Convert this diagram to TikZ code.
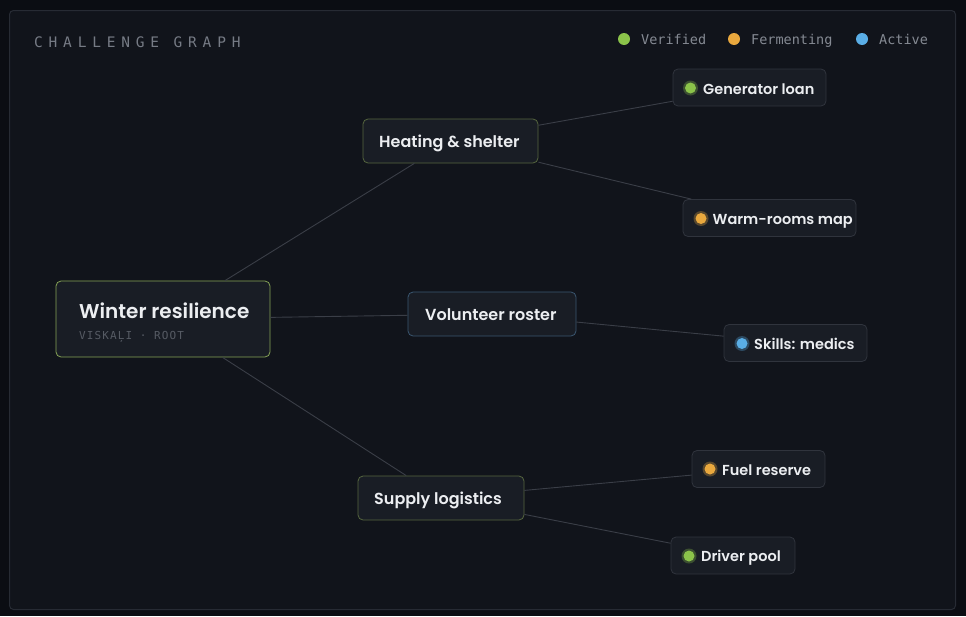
\documentclass[tikz,border=0pt]{standalone}
\usepackage{fontspec}
\setmainfont{Poppins}[UprightFont={* Medium}, BoldFont={* SemiBold}]
\newfontfamily\monofont{DejaVu Sans Mono}
\newfontfamily\trackfont{DejaVu Sans Mono}[LetterSpace=40]
\newfontfamily\subfont{DejaVu Sans Mono}[LetterSpace=10]
\definecolor{bgout}{HTML}{0B0D13}
\definecolor{panel}{HTML}{11141B}
\definecolor{panelborder}{HTML}{272B34}
\definecolor{nodefill}{HTML}{191D25}
\definecolor{greyborder}{HTML}{30343D}
\definecolor{edgecol}{HTML}{3A3E47}
\definecolor{txt}{HTML}{ECEEF1}
\definecolor{muted}{HTML}{767B85}
\definecolor{legmuted}{HTML}{858A93}
\definecolor{submuted}{HTML}{565B64}
\definecolor{vgreen}{HTML}{8BC34A}
\definecolor{forange}{HTML}{E9A83E}
\definecolor{ablue}{HTML}{5AAEE6}
\definecolor{rootborder}{HTML}{86A356}
\definecolor{greenborder}{HTML}{56663F}
\definecolor{blueborder}{HTML}{3A5670}
\tikzset{
  box/.style={draw=greyborder, fill=nodefill, rounded corners=5pt, inner sep=0pt, line width=0.8pt},
  leafbox/.style={box, minimum height=37pt},
  midbox/.style={box, minimum height=44pt},
  edge/.style={draw=edgecol, line width=0.9pt},
  midtext/.style={anchor=base west, text=txt, font=\fontsize{16}{18}\selectfont\bfseries, inner sep=0pt},
  leaftext/.style={anchor=base west, text=txt, font=\fontsize{14.5}{16}\selectfont\bfseries, inner sep=0pt},
  legtext/.style={anchor=base west, text=legmuted, font=\monofont\fontsize{13.5}{16}\selectfont, inner sep=0pt},
}
\newcommand{\statusdot}[3]{%
  \fill[#3!30!nodefill] (#1,#2) circle (7.5pt);
  \fill[#3] (#1,#2) circle (5.5pt);}
\begin{document}
\begin{tikzpicture}[x=1pt,y=-1pt]
\fill[bgout] (0,0) rectangle (966,616);
\useasboundingbox (0,0) rectangle (966,616);
\draw[panelborder, fill=panel, rounded corners=4pt, line width=1pt] (9.5,10.5) rectangle (955.5,609.5);

% title
\node[anchor=base west, text=muted, font=\trackfont\fontsize{14.5}{16}\selectfont, inner sep=0pt] (title) at (34,47.5) {CHALLENGE GRAPH};

% legend
\fill[vgreen] (624,39) circle (6pt);
\node[legtext] (lv) at (641,44) {Verified};
\fill[forange] (734,39) circle (6pt);
\node[legtext] (lf) at (751,44) {Fermenting};
\fill[ablue] (862,39) circle (6pt);
\node[legtext] (la) at (879,44) {Active};

% boxes
\node[box, draw=rootborder, minimum width=214pt, minimum height=76pt] (root) at (163,319) {};
\node[midbox, draw=greenborder, minimum width=175pt] (heat) at (450.5,141) {};
\node[midbox, draw=blueborder, minimum width=168pt] (vol) at (492,314) {};
\node[midbox, draw=greenborder, minimum width=166pt] (sup) at (441,498) {};
\node[leafbox, minimum width=153pt] (gen) at (749.5,87.5) {};
\node[leafbox, minimum width=173pt] (warm) at (769.5,218) {};
\node[leafbox, minimum width=143pt] (skill) at (795.5,343) {};
\node[leafbox, minimum width=133pt] (fuel) at (758.5,469) {};
\node[leafbox, minimum width=124pt] (drv) at (733,555.5) {};

% edges
\draw[edge] (root) -- (heat);
\draw[edge] (root) -- (vol);
\draw[edge] (root) -- (sup);
\draw[edge] (heat) -- (gen);
\draw[edge] (heat) -- (warm);
\draw[edge] (vol) -- (skill);
\draw[edge] (sup) -- (fuel);
\draw[edge] (sup) -- (drv);

% texts
\node[anchor=base west, text=txt, font=\fontsize{20}{24}\selectfont\bfseries, inner sep=0pt] (roott) at (79,318) {Winter resilience};
\node[anchor=base west, text=submuted, font=\subfont\fontsize{11}{13}\selectfont, inner sep=0pt] (roots) at (79,339) {VISKAĻI · ROOT};
\node[midtext] (heatt) at (379,147) {Heating \& shelter};
\node[midtext] (volt) at (425,320) {Volunteer roster};
\node[midtext] (supt) at (374,504) {Supply logistics};

\statusdot{690.5}{88}{vgreen}
\node[leaftext] (gent) at (703,94) {Generator loan};
\statusdot{701}{218.5}{forange}
\node[leaftext] (warmt) at (712.5,224) {Warm-rooms map};
\statusdot{742}{343.5}{ablue}
\node[leaftext] (skillt) at (754,349) {Skills: medics};
\statusdot{710}{469}{forange}
\node[leaftext] (fuelt) at (722,475) {Fuel reserve};
\statusdot{689}{556}{vgreen}
\node[leaftext] (drvt) at (701,561) {Driver pool};
\end{tikzpicture}
\end{document}
